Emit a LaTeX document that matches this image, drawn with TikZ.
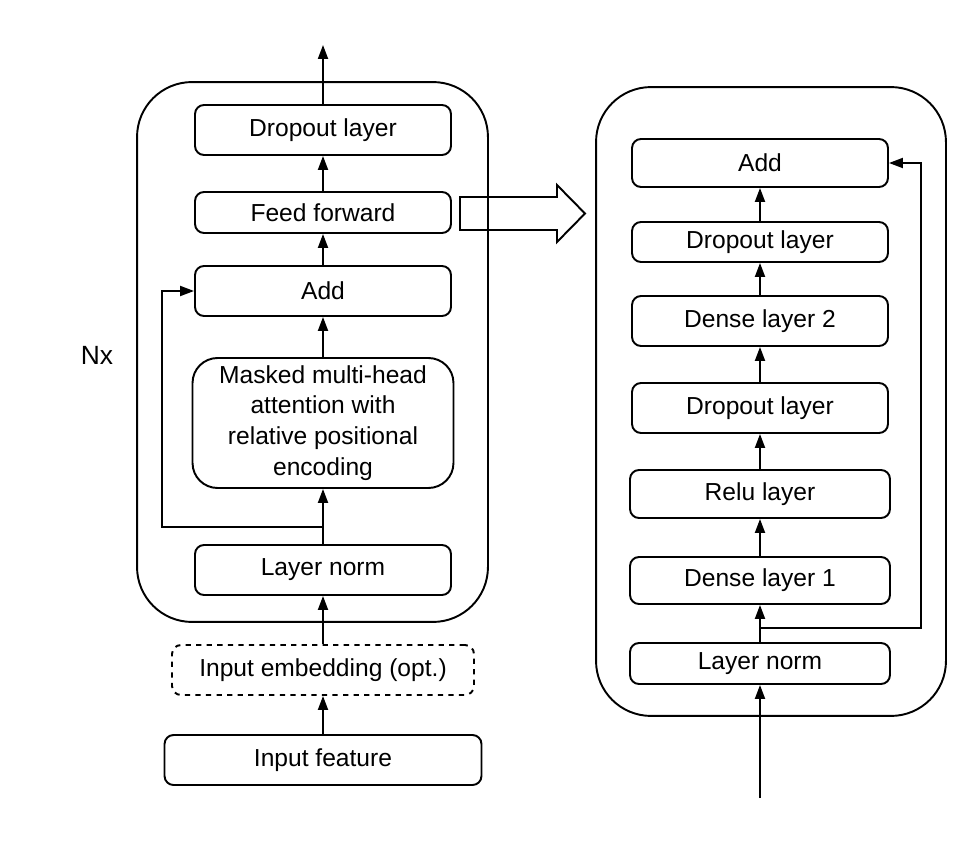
\documentclass[tikz,border=0pt]{standalone}
\usepackage{fontspec}
\setmainfont{Liberation Sans}
\usetikzlibrary{arrows.meta}

\begin{document}
\begin{tikzpicture}[x=0.02cm, y=-0.02cm, line width=1.1pt, >={Triangle[length=0.28cm,width=0.2cm]}]
  % Style definitions
  \tikzstyle{block} = [rectangle, draw=black, fill=white, rounded corners=0.18cm, minimum width=5.12cm, minimum height=1cm, align=center, inner sep=0pt, font=\fontsize{14}{17.5}\selectfont]
  \tikzstyle{frame} = [rectangle, draw=black, rounded corners=1.1cm, inner sep=0pt]

  \useasboundingbox (0,0) rectangle (964,851);

  % Frames
  \node (enc) [frame, minimum width=7.02cm, minimum height=10.8cm] at (312.5,352) {};
  \node (ffn) [frame, minimum width=7cm, minimum height=12.58cm] at (771,401.5) {};
  \node (nx) [font=\fontsize{15}{18}\selectfont] at (97,355) {Nx};

  % Encoder layer
  \node (dropA) [block] at (323,130) {Dropout layer};
  \node (feed) [block, minimum height=0.82cm] at (323,212.5) {Feed forward};
  \node (addA) [block] at (323,291) {Add};
  \node (attn) [block, minimum width=5.22cm, minimum height=2.6cm, rounded corners=0.5cm] at (323,423) {Masked multi-head\\attention with\\relative positional\\encoding};
  \node (normA) [block] at (323,570) {Layer norm};
  \node (embed) [block, dashed, minimum width=6.04cm] at (323,670) {Input embedding (opt.)};
  \node (feat) [block, minimum width=6.34cm] at (323,760) {Input feature};

  % Feed forward block
  \node (addB) [block, minimum height=0.96cm] at (760,163) {Add};
  \node (dropB) [block, minimum height=0.8cm] at (760,242) {Dropout layer};
  \node (dense2) [block] at (760,321) {Dense layer 2};
  \node (dropC) [block] at (760,408) {Dropout layer};
  \node (relu) [block, minimum width=5.2cm, minimum height=0.96cm] at (760,494) {Relu layer};
  \node (dense1) [block, minimum width=5.2cm, minimum height=0.94cm] at (760,580.5) {Dense layer 1};
  \node (normB) [block, minimum width=5.2cm, minimum height=0.82cm] at (760,663.5) {Layer norm};

  % Arrows
  \coordinate (outA) at (323,45);
  \coordinate (splitA) at (323,527);
  \draw[->] (feat) -- (embed);
  \draw[->] (embed) -- (normA);
  \draw[->] (normA) -- (attn);
  \draw[->] (attn) -- (addA);
  \draw[->] (addA) -- (feed);
  \draw[->] (feed) -- (dropA);
  \draw[->] (dropA) -- (outA);
  \draw[->] (splitA) -- ++(-161,0) |- (addA.west);

  \coordinate (inB) at (760,798);
  \coordinate (splitB) at (760,628);
  \draw[->] (inB) -- (normB);
  \draw[->] (normB) -- (dense1);
  \draw[->] (dense1) -- (relu);
  \draw[->] (relu) -- (dropC);
  \draw[->] (dropC) -- (dense2);
  \draw[->] (dense2) -- (dropB);
  \draw[->] (dropB) -- (addB);
  \draw[->] (splitB) -- ++(161,0) |- (addB.east);

  % Expansion arrow
  \draw (460,197) -- (557,197) -- (557,185) -- (585,213.5) -- (557,242) -- (557,230) -- (460,230) -- cycle;
\end{tikzpicture}
\end{document}
